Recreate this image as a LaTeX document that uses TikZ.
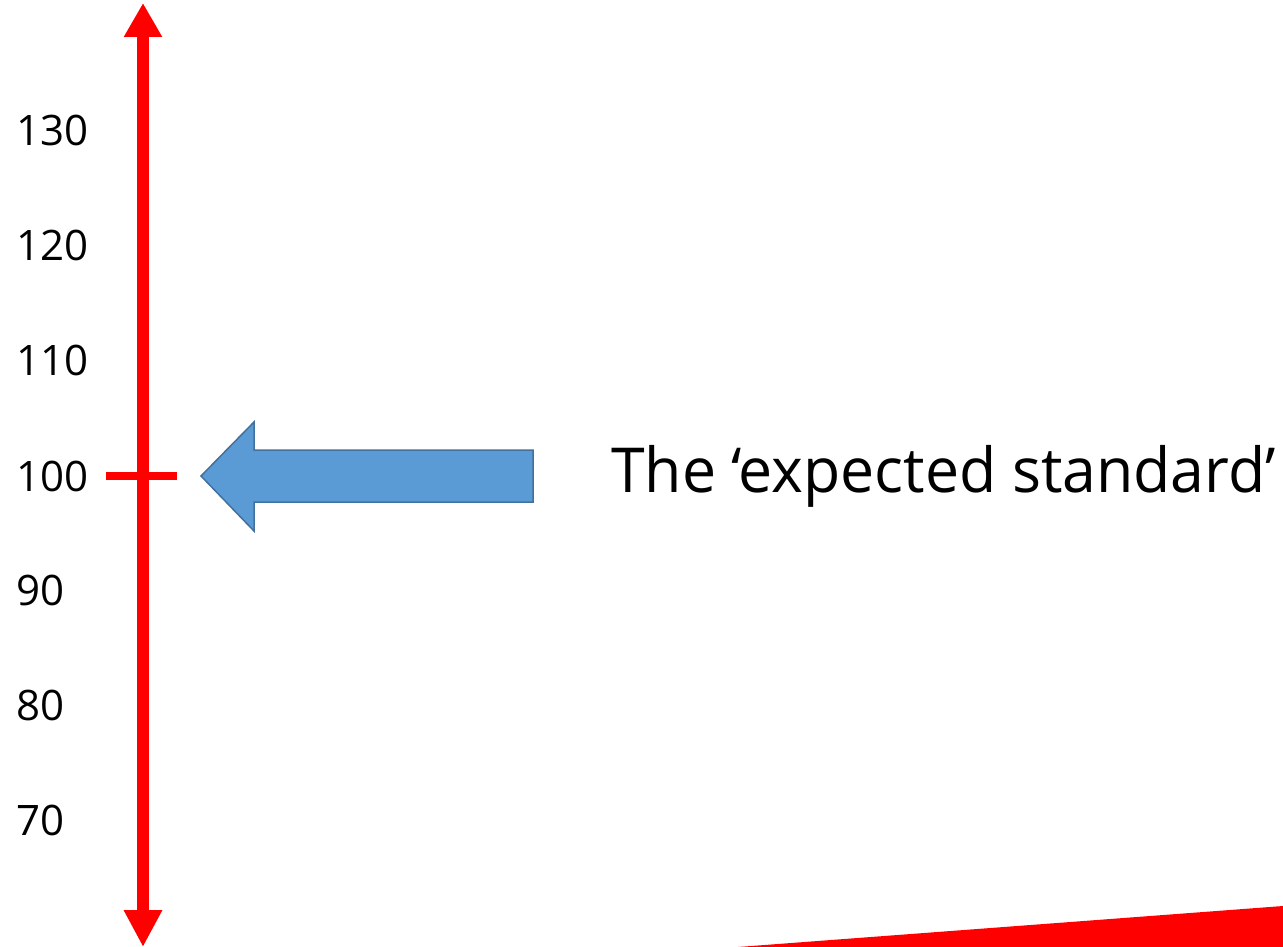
\documentclass[tikz,border=0pt]{standalone}
\usepackage{fontspec}
\setmainfont{Open Sans}
\newfontfamily\narrowfont[FakeStretch=0.98]{Open Sans}
\usetikzlibrary{arrows.meta}
\definecolor{axisred}{HTML}{FF0000}
\definecolor{arrowfill}{HTML}{5B9BD5}
\definecolor{arrowdraw}{HTML}{41719C}
\tikzset{
  axisline/.style={draw=axisred, line width=12pt,
    {Triangle[length=37pt,width=36pt]}-{Triangle[length=34pt,width=36pt]}},
  tickline/.style={draw=axisred, line width=8pt},
  numlabel/.style={anchor=west, inner sep=0pt, font=\fontsize{42}{48}\selectfont},
  biglabel/.style={anchor=west, inner sep=0pt, font=\narrowfont\fontsize{62}{70}\selectfont},
  blockarrow/.style={fill=arrowfill, draw=arrowdraw, line width=1.5pt, line join=miter},
}
\begin{document}
\begin{tikzpicture}[x=1pt,y=-1pt]
\useasboundingbox (0,0) rectangle (1283,947);
\coordinate (axtop) at (143,3);
\coordinate (axbot) at (143,947);
\coordinate (tickL) at (106,476);
\coordinate (tickR) at (177,476);
\draw[axisline] (axbot) -- (axtop);
\draw[tickline] (tickL) -- (tickR);
\node[numlabel] (l130) at (16,130) {130};
\node[numlabel] (l120) at (16,245) {120};
\node[numlabel] (l110) at (16,360) {110};
\node[numlabel] (l100) at (16,476) {100};
\node[numlabel] (l90) at (16,590) {90};
\node[numlabel] (l80) at (16,705) {80};
\node[numlabel] (l70) at (16,820) {70};
\draw[blockarrow] (201,476) -- (254,422) -- (254,450) -- (533,450) -- (533,502) -- (254,502) -- (254,531) -- cycle;
\node[biglabel] (std) at (611,476) {The ‘expected standard’};
\fill[axisred] (738,947) -- (1283,906) -- (1283,947) -- cycle;
\end{tikzpicture}
\end{document}
